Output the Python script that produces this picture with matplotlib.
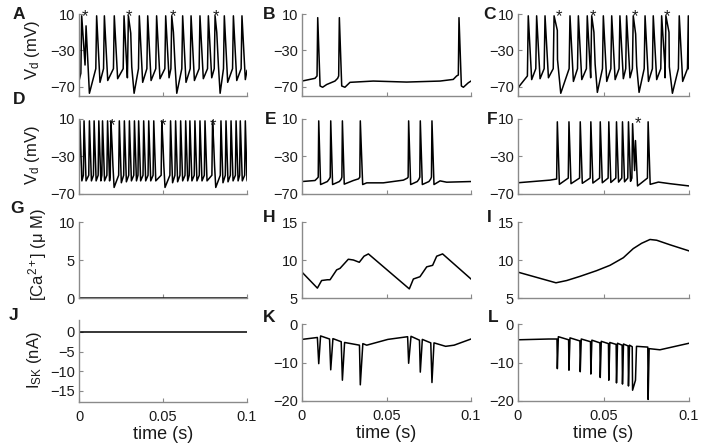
import numpy as np
import matplotlib.pyplot as plt

plt.rcParams['font.family'] = ['Liberation Sans', 'DejaVu Sans']
plt.rcParams['mathtext.fontset'] = 'custom'
plt.rcParams['mathtext.rm'] = 'Liberation Sans'
plt.rcParams['mathtext.it'] = 'Liberation Sans:italic'
plt.rcParams['mathtext.default'] = 'regular'

###############################################################################
# Data
###############################################################################
NAN = np.nan
# A : dendritic voltage, no SK current ----------------------------------------
A_SPK = [0.0016, 0.0042, 0.0105, 0.0151, 0.0210, 0.0268, 0.0294, 0.0308,
         0.0359, 0.0409, 0.0462, 0.0516, 0.0552, 0.0562, 0.0617, 0.0667,
         0.0720, 0.0770, 0.0810, 0.0820, 0.0865, 0.0919, 0.0970]
A_PEAK = [8, -3, 8, 8, 8, 8, 8, -11, 8, 8, 8, 8, 8, -10, 8, 8, 8, 8, 8, -10,
          8, 8, 8]
A_PRE = [-55, NAN, -50, -50, -50, -50, -50, NAN, -50, -50, -50, -50, -50, NAN,
         -50, -50, -50, -50, -50, NAN, -50, -50, -50]
A_TRO = [-46, -77, -65, -63, -61, -60, -48, -77, -65, -63, -61, -60, -47, -77,
         -65, -63, -61, -60, -47, -77, -65, -63, -62]
# B ---------------------------------------------------------------------------
B_SPK = [0.0093, 0.0221, 0.0929]
B_PEAK = [6, 6, 6]
B_PRE = [-58, -58, -57]
B_TRO = [-69, -69, -69]
B_BASE_T = [0.0, 0.0077, 0.0122, 0.0146, 0.0195, 0.0211, 0.0254, 0.0284,
            0.0422, 0.0619, 0.0817, 0.0895, 0.0915, 0.0955, 0.0984, 0.1]
B_BASE_V = [-63.6, -60.6, -70.4, -67.4, -63.6, -60.6, -70.4, -65.0, -63.6,
            -64.7, -63.6, -61.8, -58.0, -70.4, -65.5, -63.6]
# C ---------------------------------------------------------------------------
C_SPK = [0.0060, 0.0109, 0.0158, 0.0211, 0.0230, 0.0304, 0.0353, 0.0405,
         0.0431, 0.0444, 0.0499, 0.0548, 0.0596, 0.0635, 0.0674, 0.0688,
         0.0743, 0.0791, 0.0840, 0.0865, 0.0883, 0.0943, 0.0996]
C_PEAK = [8, 8, 8, 8, -8, 8, 8, 8, 8, -10, 8, 8, 8, 8, 8, -12, 8, 8, 8, 8, -10,
          8, 8]
C_PRE = [-58, -50, -50, -50, NAN, -50, -50, -50, -50, NAN, -50, -50, -50, -50,
         -50, NAN, -50, -50, -50, -50, NAN, -50, -50]
C_TRO = [-62, -61, -60, -40, -77, -64, -62, -60, -45, -76, -64, -62, -61, -60,
         -47, -76, -64, -62, -60, -48, -77, -64, -56]
# D ---------------------------------------------------------------------------
D_SPK = [0.0005, 0.0030, 0.0062, 0.0090, 0.0118, 0.0140, 0.0170, 0.0190,
         0.0197, 0.0240, 0.0270, 0.0300, 0.0330, 0.0355, 0.0385, 0.0415,
         0.0445, 0.0493, 0.0500, 0.0545, 0.0575, 0.0605, 0.0635, 0.0660,
         0.0690, 0.0720, 0.0750, 0.0795, 0.0802, 0.0845, 0.0875, 0.0905,
         0.0935, 0.0960, 0.0990]
D_PEAK = [8, 8, 8, 8, 8, 8, 8, 8, -18, 8, 8, 8, 8, 8, 8, 8, 8, 8, -18, 8, 8, 8,
          8, 8, 8, 8, 8, 8, -18, 8, 8, 8, 8, 8, 8]
D_PRE = [-50, -50, -50, -50, -50, -50, -50, -50, NAN, -50, -50, -50, -50, -50,
         -50, -50, -50, -50, NAN, -50, -50, -50, -50, -50, -50, -50, -50, -50,
         NAN, -50, -50, -50, -50, -50, -50]
D_TRO = [-56, -56, -56, -56, -56, -56, -56, -40, -63, -58, -57, -56, -56, -56,
         -56, -56, -56, -40, -63, -58, -57, -56, -56, -56, -56, -56, -56, -40,
         -63, -58, -57, -56, -56, -56, -56]
# E / H / K (same cell, SK current on) -----------------------------------------
E_SPK = [0.0099, 0.0170, 0.0239, 0.0345, 0.0631, 0.0700, 0.0769]
E_PEAK = [8, 8, 8, 8, 8, 8, 8]
E_PRE = [-52, -52, -52, -52, -52, -52, -52]
E_BASE_T = [0.0, 0.0077, 0.0091, 0.0110, 0.0150, 0.0162, 0.0181, 0.0221,
            0.0231, 0.0250, 0.0304, 0.0335, 0.0359, 0.0383, 0.0481, 0.0600,
            0.0623, 0.0643, 0.0682, 0.0692, 0.0712, 0.0751, 0.0761, 0.0781,
            0.0817, 0.0856, 0.1]
E_BASE_V = [-56.7, -55.6, -53.1, -59.9, -56.7, -53.8, -59.9, -56.7, -54.5,
            -59.5, -55.6, -53.8, -59.9, -58.1, -58.1, -55.2, -53.1, -59.9,
            -56.7, -54.2, -59.9, -56.7, -54.2, -59.9, -56.0, -57.4, -56.7]
H_T = [0.0, 0.0091, 0.0116, 0.0150, 0.0166, 0.0205, 0.0225, 0.0274, 0.0304,
       0.0339, 0.0367, 0.0393, 0.0635, 0.0659, 0.0698, 0.0738, 0.0773, 0.0797,
       0.0832, 0.1]
H_CA = [8.4, 6.3, 7.3, 7.4, 7.4, 8.7, 8.9, 10.1, 10.0, 9.7, 10.5, 10.8, 6.2,
        7.5, 7.8, 9.1, 9.3, 10.5, 10.8, 7.5]
K_PEAK = [-10.3, -11.9, -14.6, -15.8, -10.2, -12.5, -15.2]
K_BASE_T = [0.0, 0.0091, 0.0110, 0.0163, 0.0183, 0.0232, 0.0252, 0.0340,
            0.0360, 0.0383, 0.0508, 0.0625, 0.0645, 0.0695, 0.0712, 0.0762,
            0.0781, 0.0850, 0.0900, 0.1]
K_BASE_V = [-4.0, -3.5, -3.1, -3.9, -3.8, -4.6, -4.8, -5.5, -5.1, -5.5, -4.0,
            -3.3, -3.2, -4.2, -4.0, -4.9, -4.9, -5.8, -5.5, -3.9]
# F / I / L -------------------------------------------------------------------
F_SPK = [0.0230, 0.0298, 0.0364, 0.0426, 0.0481, 0.0531, 0.0576, 0.0611,
         0.0646, 0.0670, 0.0687, 0.0761]
F_PEAK = [7, 7, 7, 7, 7, 7, 7, 7, 7, 5, -13, 7]
F_PRE = [-54, -53, -53, -53, -53, -53, -53, -53, -53, -53, NAN, -53]
F_TRO = [-59.7, -59.0, -58.6, -58.3, -58.0, -57.7, -57.3, -57.0, -56.5, -45,
         -61.4, -59.7]
F_BASE_T = [0.0, 0.0187, 0.0821, 0.0889, 0.1]
F_BASE_V = [-58.0, -55.2, -57.3, -59.0, -61.4]
I_T = [0.0, 0.0222, 0.0285, 0.0363, 0.0460, 0.0538, 0.0616, 0.0674, 0.0723,
       0.0772, 0.0811, 0.0889, 0.1]
I_CA = [8.4, 7.0, 7.3, 7.85, 8.6, 9.3, 10.3, 11.5, 12.2, 12.7, 12.6, 12.0,
        11.2]
L_PEAK = [-11.6, -12.0, -12.4, -13.0, -13.9, -14.6, -15.3, -15.6, -16.1,
          -17.2, -14.6, -19.6]
L_PRE = [-3.9, -4.1, -4.4, -4.6, -4.9, -5.1, -5.3, -5.5, -5.7, -5.9, NAN, -6.0]
L_TRO = [-3.3, -3.6, -3.9, -4.2, -4.5, -4.8, -5.0, -5.2, -5.5, NAN, -5.8, -6.4]
L_BASE_T = [0.0, 0.0180, 0.0830, 0.1]
L_BASE_V = [-4.1, -3.9, -6.7, -5.0]

# asterisks (doublets) --------------------------------------------------------
A_STAR = [0.0036, 0.0300, 0.0558, 0.0815]
C_STAR = [0.0242, 0.0437, 0.0684, 0.0870]
D_STAR = [0.0195, 0.0498, 0.0800]
F_STAR = [0.0704]


###############################################################################
# Helpers
###############################################################################
def build(spk, peak, pre=None, tro=None, bt=(), bv=(), rise=0.0005,
          fall=0.0020):
    pts = list(zip(bt, bv))
    for i, (t, p) in enumerate(zip(spk, peak)):
        pts.append((t, p))
        if pre is not None and not np.isnan(pre[i]):
            pts.append((t - rise, pre[i]))
        if tro is not None and not np.isnan(tro[i]):
            pts.append((t + fall, tro[i]))
    pts.sort()
    arr = np.array(pts)
    return arr[:, 0], arr[:, 1]


W, H = 704, 446
COLS = [(79, 247), (302, 471), (518, 689)]
ROWS = [(14, 96), (119, 194), (222, 298), (324, 401)]
GRAY = '#8a8a8a'
TXT = '#1a1a1a'

fig = plt.figure(figsize=(W / 100, H / 100), dpi=100)


def box(r, c, top=None, bot=None):
    x0, x1 = COLS[c]
    y0, y1 = ROWS[r]
    if top is not None:
        y0 = top
    if bot is not None:
        y1 = bot
    ax = fig.add_axes([x0 / W, 1 - y1 / H, (x1 - x0) / W, (y1 - y0) / H])
    for s in ('top', 'right'):
        ax.spines[s].set_visible(False)
    for s in ('left', 'bottom'):
        ax.spines[s].set_color(GRAY)
        ax.spines[s].set_linewidth(1.0)
    ax.tick_params(direction='in', length=3, width=0.8, color=GRAY,
                   labelsize=10.5, labelcolor=TXT, pad=3)
    ax.set_xlim(0, 0.1)
    ax.set_xticks([0, 0.05, 0.1])
    ax.patch.set_alpha(0)
    return ax


LW = 1.1
# Row 1 -----------------------------------------------------------------------
axA = box(0, 0)
axA.plot(*build(A_SPK, A_PEAK, A_PRE, A_TRO, [0.0, 0.1], [-63.6, -52]),
         color='k', lw=LW)
axB = box(0, 1)
axB.plot(*build(B_SPK, B_PEAK, B_PRE, B_TRO, B_BASE_T, B_BASE_V,
                rise=0.0004, fall=0.0014), color='k', lw=LW)
axC = box(0, 2)
axC.plot(*build(C_SPK, C_PEAK, C_PRE, C_TRO, [0.0, 0.1], [-71, -50]),
         color='k', lw=LW)
for ax in (axA, axB, axC):
    ax.set_ylim(-80, 10)
    ax.set_yticks([10, -30, -70])
    ax.set_xticklabels([])
for t in A_STAR:
    axA.text(t, 7, '*', ha='center', va='center', fontsize=12, color=TXT)
for t in C_STAR:
    axC.text(t, 7, '*', ha='center', va='center', fontsize=12, color=TXT)

# Row 2 -----------------------------------------------------------------------
axD = box(1, 0)
axD.plot(*build(D_SPK, D_PEAK, D_PRE, D_TRO, [0.0, 0.1], [-55, -55],
                rise=0.0004, fall=0.0012), color='k', lw=LW)
axE = box(1, 1)
axE.plot(*build(E_SPK, E_PEAK, E_PRE, bt=E_BASE_T, bv=E_BASE_V,
                rise=0.0003), color='k', lw=LW)
axF = box(1, 2)
axF.plot(*build(F_SPK, F_PEAK, F_PRE, F_TRO, F_BASE_T, F_BASE_V,
                rise=0.0004, fall=0.0012), color='k', lw=LW)
for ax in (axD, axE, axF):
    ax.set_ylim(-70, 10)
    ax.set_yticks([10, -30, -70])
    ax.set_xticklabels([])
for t in D_STAR:
    axD.text(t, 3, '*', ha='center', va='center', fontsize=12, color=TXT)
for t in F_STAR:
    axF.text(t, 5, '*', ha='center', va='center', fontsize=12, color=TXT)

# Row 3 -----------------------------------------------------------------------
axG = box(2, 0)
axG.plot([0, 0.1], [0, 0], color='k', lw=LW)
axG.set_ylim(0, 10)
axG.set_yticks([0, 5, 10])
axH = box(2, 1)
axH.plot(H_T, H_CA, color='k', lw=LW)
axI = box(2, 2)
axI.plot(I_T, I_CA, color='k', lw=LW)
for ax in (axH, axI):
    ax.set_ylim(5, 15)
    ax.set_yticks([5, 10, 15])
for ax in (axG, axH, axI):
    ax.set_xticklabels([])

# Row 4 -----------------------------------------------------------------------
axJ = box(3, 0, top=320, bot=402)
axJ.plot([0, 0.1], [0, 0], color='k', lw=LW)
axJ.set_ylim(-17.8, 3)
axJ.set_yticks([0, -5, -10, -15])
axK = box(3, 1)
axK.plot(*build(E_SPK, K_PEAK, bt=K_BASE_T, bv=K_BASE_V, rise=0.0002,
                fall=0.0002), color='k', lw=LW)
axL = box(3, 2)
axL.plot(*build(F_SPK, L_PEAK, L_PRE, L_TRO, L_BASE_T, L_BASE_V,
                rise=0.0002, fall=0.0006), color='k', lw=LW)
for ax in (axK, axL):
    ax.set_ylim(-20, 0)
    ax.set_yticks([0, -10, -20])
for ax in (axJ, axK, axL):
    ax.set_xticklabels(['0', '0.05', '0.1'])
    ax.tick_params(axis='x', pad=6)
    ax.set_xlabel('time (s)', fontsize=13, color=TXT, labelpad=1)

for ax in fig.axes:
    ax.yaxis.set_major_formatter(
        plt.FuncFormatter(lambda v, p: ('%g' % v).replace('-', '\u2212')))

# Labels ----------------------------------------------------------------------
LET = [('A', 13, 10), ('B', 263, 10), ('C', 483, 10), ('D', 13, 95),
       ('E', 265, 115), ('F', 487, 115), ('G', 10, 204), ('H', 263, 213),
       ('I', 487, 213), ('J', 9, 311), ('K', 263, 313), ('L', 488, 313)]
for s, x, y in LET:
    fig.text(x / W, 1 - (y - 3) / H, s, ha='left', va='top', fontsize=12.5,
             fontweight='bold', color=TXT)

YL = [(r'V$_d$ (mV)', 33, 50), (r'V$_d$ (mV)', 33, 155),
      (r'[Ca$^{2+}$] ($\mu$ M)', 38, 255), (r'I$_{SK}$ (nA)', 34, 360)]
for s, x, y in YL:
    fig.text(x / W, 1 - y / H, s, rotation=90, ha='center', va='center',
             fontsize=12, color=TXT)

fig.savefig('out.png', dpi=100)
